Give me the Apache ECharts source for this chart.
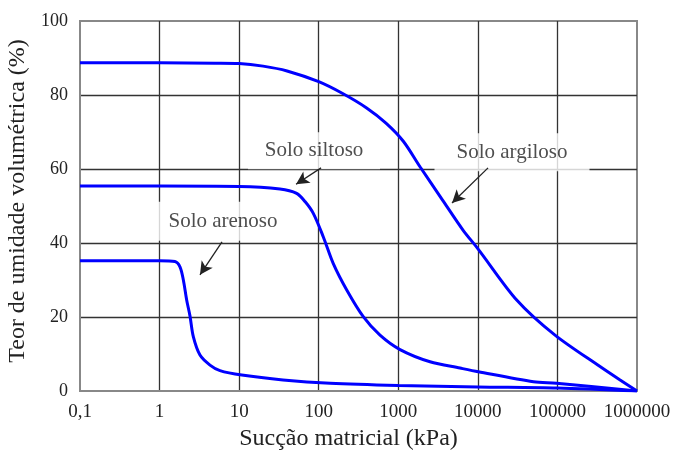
<!DOCTYPE html>
<html>
<head>
<meta charset="utf-8">
<script src="https://cdn.jsdelivr.net/npm/echarts@6/dist/echarts.min.js"></script>
<style>
  html, body { margin: 0; padding: 0; background: #fff; }
  #main { width: 673px; height: 452px; }
</style>
</head>
<body>
<div id="main"></div>
<script>
// dados (sucção em kPa, teor em %)
var arenosoX = [0.1, 1, 1.56, 1.81, 1.99, 2.19, 2.41, 2.66, 3.22, 4.3, 5.74, 10.8, 35.6, 139, 1000, 10000, 100000, 1000000];
var arenosoY = [35.2, 35.2, 35.0, 33.5, 30, 24.6, 20.3, 14.6, 9.7, 7, 5.5, 4.3, 3, 2.1, 1.5, 1.1, 0.8, 0];

var siltosoX = [0.1, 1, 10, 32.6, 52.8, 67.3, 85.5, 114, 152, 225, 363, 589, 1052, 2506, 5970, 10140, 50000, 97000, 1000000];
var siltosoY = [55.4, 55.4, 55.3, 54.6, 53.4, 51.2, 48, 41.7, 34.5, 27.3, 20.1, 15.1, 11.2, 7.9, 6.2, 5.2, 2.5, 2.1, 0];

var argilosoX = [0.1, 1, 5, 10, 20, 40, 100, 200, 400, 700, 1156, 1875, 3600, 6500, 10140, 30780, 93300, 343000, 600000, 1000000];
var argilosoY = [88.7, 88.7, 88.6, 88.5, 87.8, 86.5, 83.6, 80.4, 76.5, 72.4, 67.5, 60.6, 51.6, 43.5, 38.3, 24.6, 15.1, 6.6, 3.1, 0];

var yTicks = [0, 20, 40, 60, 80, 100];

// rótulos e setas (coordenadas de dados)
var labelNames = ['Solo siltoso', 'Solo arenoso', 'Solo argiloso'];
var labelPos = [[87.3, 64.9], [6.27, 45.9], [26850, 64.5]];
var labelWidth = [132, 143, 155];
var labelPad = [[12, 0, 4, 0], [9, 0, 9, 0], [12, 0, 5, 0]];
var arrowFrom = [[107, 60.3], [6.09, 40.3], [13430, 60.3]];
var arrowTo = [[51.9, 55.9], [3.22, 31.4], [4732, 50.8]];

var FONT = 'Liberation Serif';

function pairs(xs, ys){
  return xs.map(function(x, i){ return [x, ys[i]]; });
}

var chart = echarts.init(document.getElementById('main'));

var curveStyle = {
  type: 'line'
  ,showSymbol: false
  ,symbol: 'none'
  ,smooth: 0.3
  ,lineStyle: {color: '#0000ff', width: 3}
  ,z: 5
};

var series = [
  Object.assign({name: 'arenoso', data: pairs(arenosoX, arenosoY)}, curveStyle)
  ,Object.assign({name: 'siltoso', data: pairs(siltosoX, siltosoY)}, curveStyle)
  ,Object.assign({name: 'argiloso', data: pairs(argilosoX, argilosoY)}, curveStyle)
];

// caixas brancas com os nomes dos solos
series.push({
  type: 'scatter'
  ,symbolSize: 0
  ,silent: true
  ,z: 4
  ,data: labelNames.map(function(n, i){
    return {
      value: labelPos[i]
      ,label: {
        show: true
        ,position: 'inside'
        ,formatter: n
        ,width: labelWidth[i]
        ,lineHeight: 21
        ,padding: labelPad[i]
        ,align: 'center'
        ,verticalAlign: 'middle'
        ,backgroundColor: '#fff'
        ,color: '#222'
        ,fontFamily: FONT
        ,fontSize: 21
      }
    };
  })
  ,markLine: {
    silent: true
    ,label: {show: false}
    ,lineStyle: {color: '#222', width: 1.3, type: 'solid'}
    ,data: arrowFrom.map(function(p, i){
      return [
        {coord: p, symbol: 'none'}
        ,{coord: arrowTo[i], symbol: 'arrow', symbolSize: [10, 13]}
      ];
    })
  }
});

chart.setOption({
  animation: false
  ,grid: {
    left: 80, top: 21, right: 36, bottom: 61, outerBoundsMode: 'none'
    ,show: true, borderColor: '#888', borderWidth: 2, backgroundColor: '#fff'
  }
  ,xAxis: {
    type: 'log'
    ,logBase: 10
    ,min: 0.1
    ,max: 1000000
    ,name: 'Sucção matricial (kPa)'
    ,nameLocation: 'middle'
    ,nameGap: 36
    ,nameTextStyle: {fontFamily: FONT, fontSize: 24, color: '#222', padding: [0, 20, 0, 0]}
    ,axisLine: {lineStyle: {color: '#888', width: 2}}
    ,axisTick: {show: false}
    ,axisLabel: {
      fontFamily: FONT, fontSize: 19, color: '#222', margin: 12
      ,formatter: function(v){ return String(+(+v).toPrecision(6)).replace('.', ','); }
    }
    ,splitLine: {show: true, showMinLine: false, showMaxLine: false, lineStyle: {color: '#333', width: 1.3}}
  }
  ,yAxis: {
    type: 'value'
    ,min: yTicks[0]
    ,max: yTicks[yTicks.length - 1]
    ,interval: 20
    ,name: 'Teor de umidade volumétrica (%)'
    ,nameLocation: 'middle'
    ,nameGap: 46
    ,nameTextStyle: {fontFamily: FONT, fontSize: 24, color: '#222', padding: [0, 0, 0, 10]}
    ,axisLine: {show: true, lineStyle: {color: '#888', width: 2}}
    ,axisTick: {show: false}
    ,axisLabel: {fontFamily: FONT, fontSize: 18, color: '#222', margin: 12}
    ,splitLine: {show: true, showMinLine: false, showMaxLine: false, lineStyle: {color: '#333', width: 1.3}}
  }
  ,series: series
});
</script>
</body>
</html>
